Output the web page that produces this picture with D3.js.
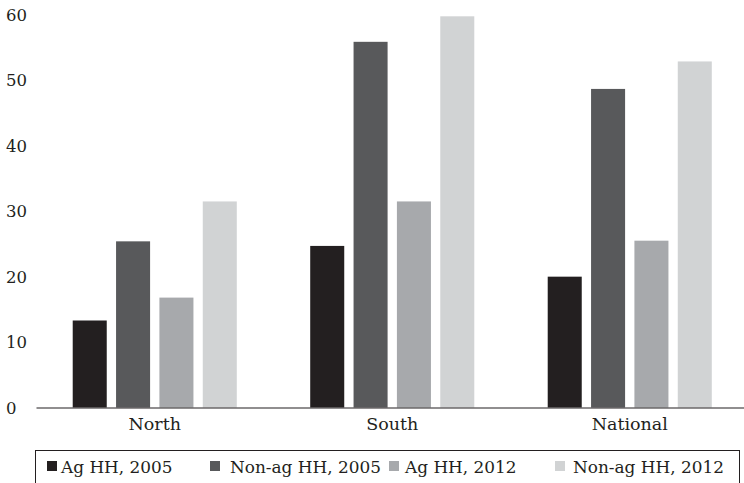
<!DOCTYPE html>
<html>
<head>
<meta charset="utf-8">
<script src="https://cdn.jsdelivr.net/npm/d3@7"></script>
<style>
body { margin: 0; background: #fff; }
text { font-family: "DejaVu Serif", "Liberation Serif", serif; fill: #231f20; }
</style>
</head>
<body>
<svg id="chart" width="744" height="483"></svg>
<script>
// Data
var regions = ["North", "South", "National"];
var seriesNames = ["Ag HH, 2005", "Non-ag HH, 2005", "Ag HH, 2012", "Non-ag HH, 2012"];
var agHH2005 = [13.3, 24.7, 20.0];
var nonAgHH2005 = [25.4, 55.9, 48.7];
var agHH2012 = [16.8, 31.5, 25.5];
var nonAgHH2012 = [31.5, 59.8, 52.9];
var yTicks = [0, 10, 20, 30, 40, 50, 60];

var colors = ["#231f20", "#58595b", "#a7a9ac", "#d1d3d4"];
var seriesValues = [agHH2005, nonAgHH2005, agHH2012, nonAgHH2012];

var fontFamily = "DejaVu Serif, Liberation Serif, serif";
var tickFont = "16.5px";
var labelFont = "17.5px";
var legendFont = "16.9px";

var svg = d3.select("#chart");

var xLeft = 36, xRight = 748.5;
var yTop = 15, yBottom = 407.5;

var x0 = d3.scaleBand()
	.domain(regions)
	.range([xLeft, xRight]);

var x1 = d3.scaleBand()
	.domain(d3.range(seriesNames.length))
	.range([-86.7, 86.7])
	.paddingInner(0.215)
	.paddingOuter(0.1075);

var yScale = d3.scaleLinear()
	.domain([0, 60])
	.range([yBottom, yTop]);

// y tick labels (no axis line)
svg.append("g").selectAll("text")
	.data(yTicks)
	.enter().append("text")
	.attr("x", 6)
	.attr("y", d => yScale(d) + 6)
	.style("font-size", tickFont)
	.text(d => d);

// bars
var groups = svg.append("g").selectAll("g")
	.data(regions)
	.enter().append("g")
	.attr("transform", d => `translate(${x0(d) + x0.bandwidth() / 2},0)`);

groups.selectAll("rect")
	.data((r, i) => seriesValues.map((s, k) => ({k: k, v: s[i]})))
	.enter().append("rect")
	.attr("x", d => x1(d.k))
	.attr("width", x1.bandwidth())
	.attr("y", d => yScale(d.v))
	.attr("height", d => yBottom - yScale(d.v))
	.attr("fill", d => colors[d.k]);

// baseline / x axis
var xAxis = d3.axisBottom(x0).tickSize(0).tickPadding(10);
var xg = svg.append("g")
	.attr("transform", `translate(0,${yBottom})`)
	.call(xAxis);
xg.select(".domain").attr("stroke", "#231f20").attr("stroke-width", 1.2);
xg.selectAll("text")
	.style("font-family", fontFamily)
	.style("font-size", labelFont)
	.attr("fill", "#231f20");

// legend
var legend = svg.append("g");
legend.append("rect")
	.attr("x", 35.5).attr("y", 450.5)
	.attr("width", 704).attr("height", 40)
	.attr("fill", "none")
	.attr("stroke", "#231f20")
	.attr("stroke-width", 1);

var legendX = [47, 210, 389, 555];
var textX = [61, 230, 405, 573];
seriesNames.forEach(function(name, i) {
	legend.append("rect")
		.attr("x", legendX[i]).attr("y", 461)
		.attr("width", 10).attr("height", 10)
		.attr("fill", colors[i]);
	legend.append("text")
		.attr("x", textX[i]).attr("y", 472.5)
		.style("font-size", legendFont)
		.text(name);
});
</script>
</body>
</html>
